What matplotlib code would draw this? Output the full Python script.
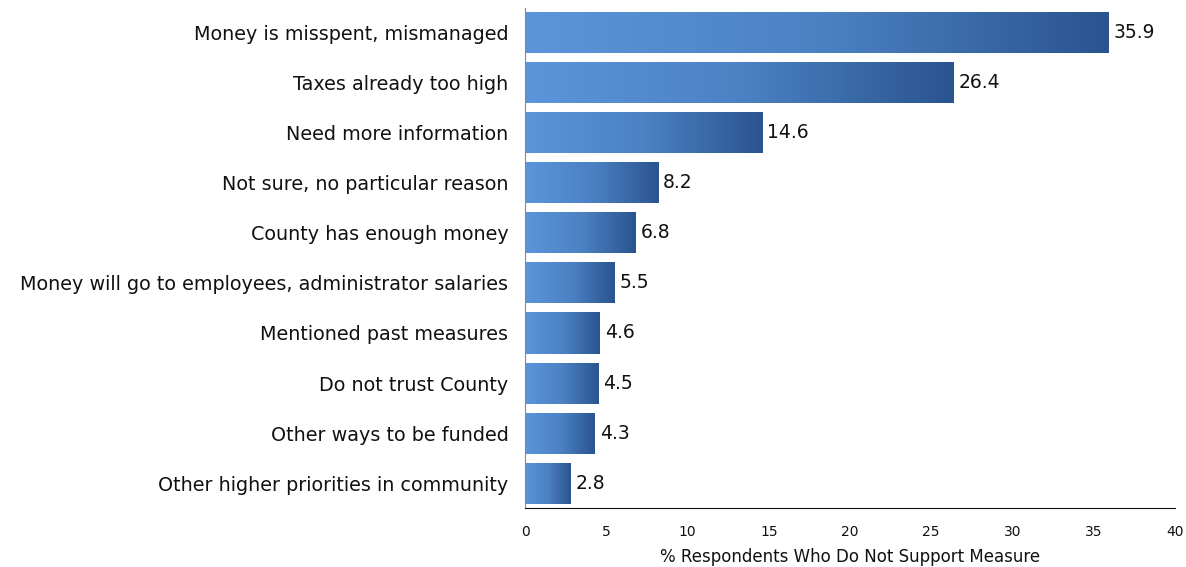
import numpy as np
import matplotlib.pyplot as plt
from matplotlib.colors import LinearSegmentedColormap

reasons = [
    "Money is misspent, mismanaged",
    "Taxes already too high",
    "Need more information",
    "Not sure, no particular reason",
    "County has enough money",
    "Money will go to employees, administrator salaries",
    "Mentioned past measures",
    "Do not trust County",
    "Other ways to be funded",
    "Other higher priorities in community",
]
percents = [35.9, 26.4, 14.6, 8.2, 6.8, 5.5, 4.6, 4.5, 4.3, 2.8]
xticks = [0, 5, 10, 15, 20, 25, 30, 35, 40]

grad = LinearSegmentedColormap.from_list("bargrad", ["#5C95DA", "#4C82C4", "#2A5490"])

fig = plt.figure(figsize=(11.86, 5.67), dpi=100)
ax = fig.add_axes([0.4427, 0.104, 0.548, 0.882])

y = np.arange(len(reasons))
h = 0.82
bars = ax.barh(y, percents, height=h, color="none", edgecolor="none")

# each bar gets its own left-to-right gradient
ramp = np.linspace(0, 1, 256).reshape(1, -1)
for bar, val in zip(bars, percents):
    x0, y0 = bar.get_x(), bar.get_y()
    im = ax.imshow(ramp, cmap=grad, aspect="auto", interpolation="bicubic",
                   extent=[x0, x0 + bar.get_width(), y0, y0 + bar.get_height()],
                   zorder=2)
    im.set_clip_path(bar)
    ax.text(val + 0.3, bar.get_y() + h / 2, f"{val:.1f}", va="center", ha="left",
            fontsize=13.5, color="#111111")

ax.set_xlim(0, 40)
ax.set_ylim(len(reasons) - 0.5, -0.5)
ax.set_yticks(y)
ax.set_yticklabels(reasons, fontsize=13.8, color="#111111")
ax.set_xticks(xticks)
ax.set_xticklabels([str(t) for t in xticks], fontsize=10, color="#111111")
ax.tick_params(axis="both", length=0)
ax.tick_params(axis="y", pad=12)
ax.tick_params(axis="x", pad=12)
ax.set_xlabel("% Respondents Who Do Not Support Measure", fontsize=12, color="#111111",
              labelpad=7)

for s in ["top", "right"]:
    ax.spines[s].set_visible(False)
ax.spines["left"].set_color("#888888")
ax.spines["bottom"].set_color("#111111")

fig.savefig("out.png", dpi=100)
